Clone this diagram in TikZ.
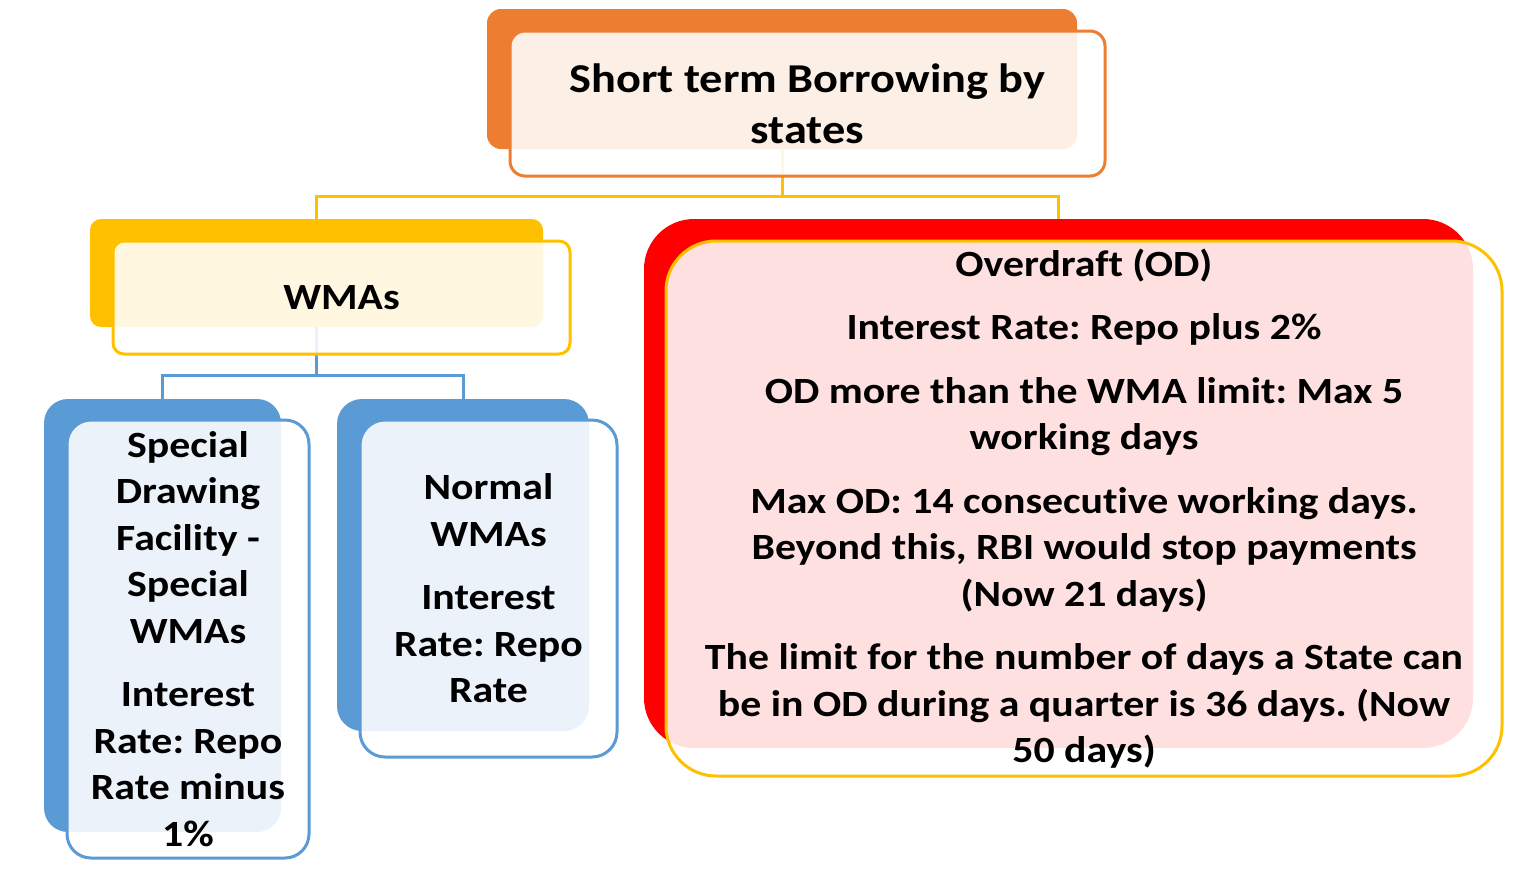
\documentclass[tikz,border=0pt]{standalone}
\usepackage{fontspec}
\setmainfont{Carlito}[FakeStretch=1.13, Ligatures=NoCommon]
\definecolor{cOrange}{HTML}{ED7D31}
\definecolor{cGold}{HTML}{FFC000}
\definecolor{cBlue}{HTML}{5B9BD5}
\definecolor{cRed}{HTML}{FF0000}
\frenchspacing
\begin{document}
\begin{tikzpicture}[x=1pt,y=-1pt,
  backbox/.style={rectangle, draw=none, fill=#1, inner sep=0pt},
  frontbox/.style={rectangle, draw=#1, line width=3pt, fill=white, fill opacity=0.88,
    text opacity=1, draw opacity=1, inner sep=0pt, align=center,
    font=\bfseries\fontsize{37}{46.5}\selectfont},
  link/.style={line width=3pt}]
\useasboundingbox (0,0) rectangle (1536,873);
% back boxes
\node[backbox=cOrange, minimum width=590pt, minimum height=140pt, rounded corners=14pt] (topb) at (782,79) {};
\node[backbox=cGold, minimum width=453pt, minimum height=108pt, rounded corners=11pt] (wmab) at (316.5,273) {};
\node[backbox=cBlue, minimum width=237pt, minimum height=433pt, rounded corners=24pt] (spb) at (162.5,615.5) {};
\node[backbox=cBlue, minimum width=252pt, minimum height=332pt, rounded corners=25pt] (nmb) at (463,565) {};
\node[backbox=cRed, minimum width=829pt, minimum height=529pt, rounded corners=50pt] (odb) at (1058.5,483.5) {};
% connectors
\draw[link, cGold] (topb.south) -- ++(0,47) coordinate (tj) -| (wmab.north);
\draw[link, cGold] (tj) -| (odb.north);
\draw[link, cBlue] (wmab.south) -- ++(0,48) coordinate (wj) -| (spb.north);
\draw[link, cBlue] (wj) -| (nmb.north);
% front boxes
\node[frontbox=cOrange, minimum width=595pt, minimum height=145pt, rounded corners=15pt,
  font=\bfseries\fontsize{41}{51}\selectfont] (top) at (807.5,103.5)
  {Short term Borrowing by\\states};
\node[frontbox=cGold, minimum width=457pt, minimum height=113pt, rounded corners=11pt] (wma) at (341.5,297.5) {WMAs};
\node[frontbox=cBlue, minimum width=242pt, minimum height=438pt, rounded corners=24pt] (sp) at (188,639)
  {Special\\Drawing\\Facility -\\Special\\WMAs\\[17pt]Interest\\Rate: Repo\\Rate minus\\1\%};
\node[frontbox=cBlue, minimum width=257pt, minimum height=337pt, rounded corners=25pt] (nm) at (488.5,588.5)
  {Normal\\WMAs\\[17pt]Interest\\Rate: Repo\\Rate};
\node[frontbox=cGold, minimum width=836pt, minimum height=535pt, rounded corners=50pt] (od) at (1084,508.5)
  {Overdraft (OD)\\[17pt]Interest Rate: Repo plus 2\%\\[17pt]OD more than the WMA limit: Max 5\\working days\\[17pt]Max OD: 14 consecutive working days.\\Beyond this, RBI would stop payments\\(Now 21 days)\\[17pt]The limit for the number of days a State can\\be in OD during a quarter is 36 days. (Now\\50 days)};
\end{tikzpicture}
\end{document}
